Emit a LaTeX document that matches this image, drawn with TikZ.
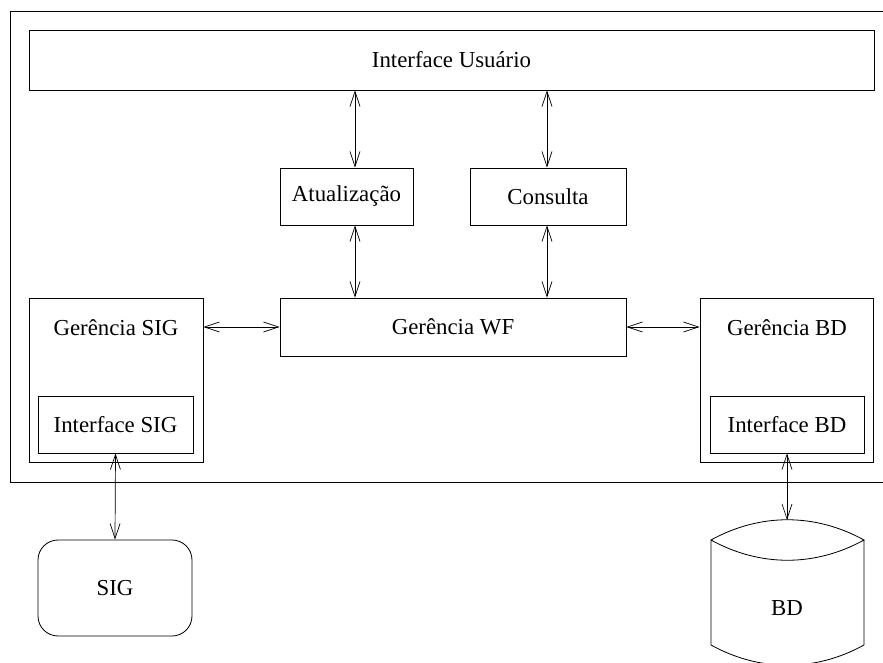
\documentclass[tikz,border=0pt]{standalone}
\usepackage{fontspec}
\setmainfont{Liberation Serif}
\usetikzlibrary{arrows.meta,fit}
\begin{document}
\begin{tikzpicture}[x=0.03cm,y=-0.03cm,
  frame/.style={draw, line width=0.7pt},
  box/.style={draw, line width=0.7pt, inner sep=0pt},
  lbl/.style={font=\fontsize{19.5}{22}\selectfont, inner sep=0pt},
  link/.style={line width=0.6pt, {Straight Barb[length=0.45cm,width=0.3cm]}-{Straight Barb[length=0.45cm,width=0.3cm]}}]
\useasboundingbox (0,0) rectangle (883,662);
\begin{scope}
\clip (0,0) rectangle (883,662);
% system frame, open beyond the right edge
\draw[frame] (10,11) rectangle (900,482);

% interface layer
\node[box, fit={(29,30) (874,90)}] (iu) {};
\node[lbl] (iul) at (iu.center) {Interface Usuário};
\node[box, fit={(280,168) (413,225)}] (atu) {};
\node[lbl] (atul) at (atu.center) {Atualização};
\node[box, fit={(470,168) (626,225)}] (cons) {};
\node[lbl] (consl) at (cons.center) {Consulta};
\node[box, fit={(280,298) (626,356)}] (wf) {};
\node[lbl] (wfl) at (wf.center) {Gerência WF};

% SIG manager
\node[box, fit={(29,298) (203,462)}] (gsig) {};
\node[lbl] (gsigl) at (116,328) {Gerência SIG};
\node[box, fit={(38,396) (193,453)}] (isig) {};
\node[lbl] (isigl) at (isig.center) {Interface SIG};

% BD manager
\node[box, fit={(700,298) (873,462)}] (gbd) {};
\node[lbl] (gbdl) at (787,328) {Gerência BD};
\node[box, fit={(710,396) (864,453)}] (ibd) {};
\node[lbl] (ibdl) at (ibd.center) {Interface BD};

% external SIG
\node[box, rounded corners=0.6cm, fit={(38,540) (192,636)}] (sig) {};
\node[lbl] (sigl) at (sig.center) {SIG};

% external database drum
\draw[frame] (711,540) .. controls (760,513) and (815,513) .. (864,540)
  .. controls (815,567) and (760,567) .. (711,540) -- (711,645)
  .. controls (760,672) and (815,672) .. (864,645) -- (864,540);
\coordinate (bdtop) at (787,520);
\node[lbl] (bd) at (787,608) {BD};

% connector columns
\coordinate (ax) at (355,0);
\coordinate (cx) at (547,0);

% connectors
\draw[link] (iu.south -| ax) -- (atu.north -| ax);
\draw[link] (iu.south -| cx) -- (cons.north -| cx);
\draw[link] (atu.south -| ax) -- (wf.north -| ax);
\draw[link] (cons.south -| cx) -- (wf.north -| cx);
\draw[link] (gsig.east |- wf.west) -- (wf.west);
\draw[link] (wf.east) -- (gbd.west |- wf.east);
\draw[link] (isig.south) -- (sig.north);
\draw[link] (ibd.south) -- (bdtop);
\end{scope}
\end{tikzpicture}
\end{document}
